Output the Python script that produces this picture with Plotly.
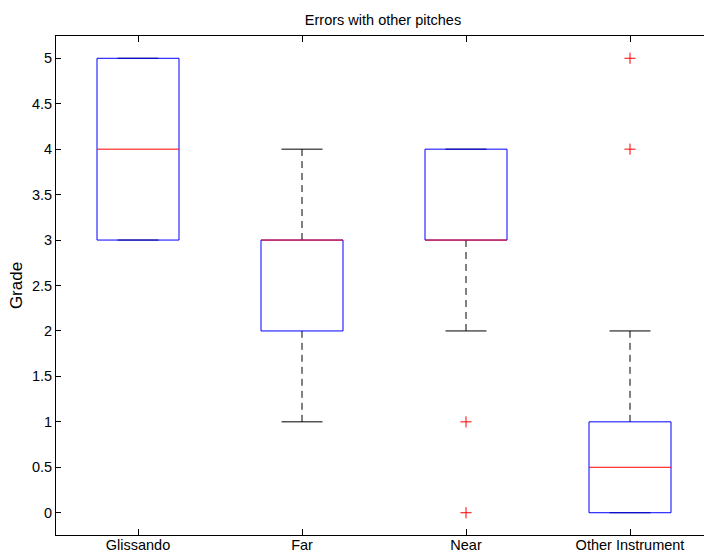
import plotly.graph_objects as go

# Box-plot summary per group
categories = ["Glissando", "Far", "Near", "Other Instrument"]
q1 = [3, 2, 3, 0]
median = [4, 3, 3, 0.5]
q3 = [5, 3, 4, 1]
lower_whisker = [3, 1, 2, 0]
upper_whisker = [5, 4, 4, 2]
outliers = [[], [], [1, 0], [5, 4]]

BOX_HALF = 0.25
CAP_HALF = 0.125

fig = go.Figure()

for i, name in enumerate(categories):
    c = i + 1
    # whiskers (dashed)
    for a, b in ((q3[i], upper_whisker[i]), (lower_whisker[i], q1[i])):
        if b != a:
            fig.add_trace(go.Scatter(x=[c, c], y=[a, b], mode="lines",
                                     line=dict(color="black", width=1, dash="7px,5px"),
                                     hoverinfo="skip", showlegend=False))
    # whisker caps
    for w in (upper_whisker[i], lower_whisker[i]):
        fig.add_trace(go.Scatter(x=[c - CAP_HALF, c + CAP_HALF], y=[w, w], mode="lines",
                                 line=dict(color="black", width=1),
                                 hoverinfo="skip", showlegend=False))
    # box
    fig.add_trace(go.Scatter(
        x=[c - BOX_HALF, c + BOX_HALF, c + BOX_HALF, c - BOX_HALF, c - BOX_HALF],
        y=[q1[i], q1[i], q3[i], q3[i], q1[i]], mode="lines",
        line=dict(color="blue", width=1), hoverinfo="skip", showlegend=False))
    # median
    fig.add_trace(go.Scatter(x=[c - BOX_HALF, c + BOX_HALF], y=[median[i], median[i]],
                             mode="lines", line=dict(color="red", width=1),
                             hoverinfo="skip", showlegend=False))
    # outliers
    if outliers[i]:
        fig.add_trace(go.Scatter(x=[c] * len(outliers[i]), y=outliers[i], mode="markers",
                                 marker=dict(symbol="cross-thin", size=8,
                                             line=dict(color="red", width=1)),
                                 hoverinfo="skip", showlegend=False))

font = dict(family="Liberation Sans, Arial, sans-serif", size=14.5, color="black")

fig.update_layout(
    width=704, height=555,
    margin=dict(l=56, r=0, t=36, b=20),
    paper_bgcolor="white", plot_bgcolor="white",
    font=font,
    title=dict(text="Errors with other pitches", x=383 / 704, xanchor="center",
               y=1 - 20 / 555, yanchor="middle", font=dict(size=14.5)),
    xaxis=dict(range=[0.5, 0.5 + 648 / 164], tickvals=[1, 2, 3, 4], ticktext=categories,
               showline=True, linecolor="black", linewidth=1, mirror="ticks",
               ticks="inside", ticklen=6, tickcolor="black", showgrid=False,
               zeroline=False, fixedrange=True, ticklabelstandoff=-3),
    yaxis=dict(range=[-0.245, 5.245], dtick=0.5, tick0=0,
               showline=True, linecolor="black", linewidth=1, mirror=False,
               ticks="inside", ticklen=5, tickcolor="black", showgrid=False,
               zeroline=False, title=dict(text="Grade", standoff=4)),
)

fig.write_html("out.html")
